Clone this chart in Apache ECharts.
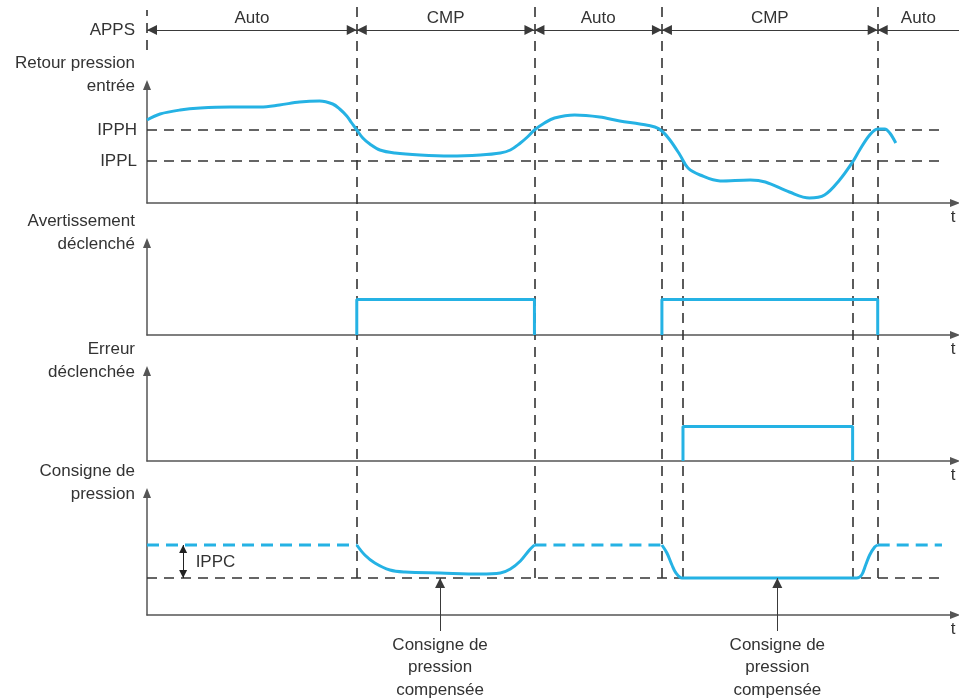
<!DOCTYPE html>
<html>
<head>
<meta charset="utf-8">
<script src="https://cdn.jsdelivr.net/npm/echarts@6/dist/echarts.min.js"></script>
<style>
html, body { margin: 0; background: #fff; }
#chart { width: 959px; height: 699px; }
</style>
</head>
<body>
<div id="chart"></div>
<script>
// time in arbitrary units, each panel has its own arbitrary value units
const modes = ['Auto', 'CMP', 'Auto', 'CMP', 'Auto']
const switchT = [20.9, 38.6, 51.3, 72.8]
const errT = [53.4, 70.3]
const lineEnd = 79.2

// Retour pression entrée
const pressT = [0, 1.3, 3.3, 5.3, 8.3, 11.3, 13.2, 15.2, 17.2, 18.5, 19.2, 19.9, 20.4, 20.9, 21.5, 22.2, 23.2, 24.7, 27.2, 30.2, 33.2, 35.2, 36.2, 37.2, 37.9, 38.6, 39.6, 40.6, 42.6, 45.1, 47.1, 49.1, 50.6, 51.3, 52.1, 53.1, 53.9, 55.1, 57.1, 60.1, 61.6, 64.0, 66.0, 67.5, 69.0, 70.3, 71.0, 72.0, 72.8, 73.5, 74.0, 74.6]
const pressV = [8.3, 8.9, 9.3, 9.5, 9.6, 9.6, 9.8, 10.1, 10.2, 9.9, 9.4, 8.7, 8.0, 7.3, 6.5, 5.9, 5.3, 5.0, 4.8, 4.7, 4.8, 5.0, 5.3, 6.0, 6.6, 7.3, 8.0, 8.5, 8.8, 8.6, 8.2, 7.9, 7.6, 7.2, 6.3, 4.8, 3.5, 2.8, 2.2, 2.3, 2.1, 1.1, 0.5, 0.8, 2.3, 4.1, 5.3, 6.8, 7.4, 7.4, 7.0, 6.0]
const IPPH = 7.3
const IPPL = 4.2

// Avertissement / Erreur déclenché
const warnOn = [20.9, 51.3]
const warnOff = [38.6, 72.8]
const errOn = [53.4]
const errOff = [70.3]

// Consigne de pression
const spNominal = 7.0
const spCompensated = 3.7
const nominalFrom = [0, 38.6, 72.8]
const nominalTo = [20.9, 51.3, 79.2]
const comp1T = [20.9, 21.7, 22.7, 24.2, 25.7, 29.2, 33.2, 35.2, 36.2, 37.2, 38.1, 38.6]
const comp1V = [7.0, 6.0, 5.2, 4.5, 4.3, 4.2, 4.1, 4.2, 4.6, 5.4, 6.5, 7.0]
const comp2T = [51.3, 51.8, 52.3, 52.7, 53.3, 62.0, 70.7, 71.2, 71.6, 72.0, 72.5, 72.8]
const comp2V = [7.0, 6.2, 5.0, 4.2, 3.7, 3.7, 3.7, 4.0, 5.0, 6.0, 6.8, 7.0]
const ippcT = 3.6
const ippcLabelV = 5.3
const annotT = [29.2, 62.8]

const panelNames = ['APPS', 'Retour pression\nentrée', 'Avertissement\ndéclenché', 'Erreur\ndéclenchée', 'Consigne de\npression']

const W = 959
const H = 699
const LEFT = 147
const RIGHT = 4
const T_MAX = 80.5
const T_MAX_APPS = T_MAX * (W - LEFT) / (W - LEFT - RIGHT)
const BLUE = '#25b2e4'
const INK = '#333'
const AXIS = '#555'
const FONT = '"Liberation Sans", Arial, sans-serif'
const dashed = { color: '#333', width: 1.6, type: [10, 7] }
const txt = { color: INK, fontSize: 17, fontFamily: FONT }

const grids = [
	{ top: 10, bottom: H - 50, right: 0 }, // APPS row
	{ top: 85, bottom: H - 203 },
	{ top: 243, bottom: H - 335 },
	{ top: 371, bottom: H - 461 },
	{ top: 493, bottom: H - 615 },
	{ top: 6, bottom: H - 578 }, // mode switch lines
	{ top: 161, bottom: H - 578 }, // error start / stop lines, from IPPL down
	{ top: 578, bottom: H - 631 }, // arrows to compensated setpoint
].map((g) => ({ left: LEFT, right: RIGHT, outerBoundsMode: 'none', ...g }))

const yMax = [2, 11.8, 2.6, 2.6, 12.2, 1, 1, 1]

const xAxis = grids.map((g, i) => ({
	type: 'value',
	gridIndex: i,
	min: 0,
	max: i === 0 ? T_MAX_APPS : T_MAX,
	show: i >= 1 && i <= 4,
	axisLine: {
		show: true,
		symbol: ['none', 'triangle'],
		symbolSize: [8, 10],
		lineStyle: { color: AXIS, width: 1.5 },
	},
	axisTick: { show: false },
	axisLabel: { show: false },
	splitLine: { show: false },
	name: 't',
	nameLocation: 'end',
	nameGap: -2,
	nameTextStyle: { ...txt, align: 'center', verticalAlign: 'top', padding: [6, 0, 0, 0] },
}))

const yAxis = grids.map((g, i) => {
	const ax = {
		type: 'value',
		gridIndex: i,
		min: 0,
		max: yMax[i],
		show: i <= 4,
		axisLine: {
			show: i >= 1,
			symbol: ['none', 'triangle'],
			symbolSize: [8, 10],
			lineStyle: { color: AXIS, width: 1.5 },
		},
		axisTick: { show: false },
		axisLabel: { show: false },
		splitLine: { show: false },
	}
	if (i === 0) {
		ax.name = panelNames[0]
		ax.nameLocation = 'middle'
		ax.nameRotate = 0
		ax.nameGap = 12
		ax.nameTextStyle = { ...txt, align: 'right', verticalAlign: 'middle' }
	} else if (i <= 4) {
		ax.name = panelNames[i]
		ax.nameLocation = 'end'
		ax.nameGap = -12.5
		ax.nameTextStyle = { ...txt, align: 'right', verticalAlign: 'bottom', lineHeight: 23, padding: [0, 12, 0, 0] }
	}
	return ax
})

const pairs = (ts, vs) => ts.map((t, i) => [t, vs[i]])
const blueLine = { color: BLUE, width: 3 }

const series = []

// APPS mode segments with arrows pointing at each switch
const bounds = [0, ...switchT, T_MAX_APPS]
series.push({
	type: 'line',
	xAxisIndex: 0,
	yAxisIndex: 0,
	data: [],
	markLine: {
		silent: true,
		symbol: 'triangle',
		symbolSize: 10,
		symbolOffset: [[0, 5], [0, 5]],
		lineStyle: { color: '#3a3a3a', width: 1, type: 'solid' },
		label: { ...txt, position: 'insideMiddleTop', distance: 3 },
		data: modes.map((m, i) => [
			{ coord: [bounds[i], 1], label: { formatter: m } },
			{ coord: [bounds[i + 1], 1], symbol: i === modes.length - 1 ? 'none' : 'triangle' },
		]),
	},
})
series.push({
	type: 'line',
	xAxisIndex: 0,
	yAxisIndex: 0,
	data: [],
	markLine: {
		silent: true,
		z: 1,
		symbol: 'none',
		lineStyle: dashed,
		label: { show: false },
		data: [{ xAxis: 0 }],
	},
})

// vertical dashed guides
series.push({
	type: 'line',
	xAxisIndex: 5,
	yAxisIndex: 5,
	data: [],
	z: 1,
	markLine: {
		silent: true,
		z: 1,
		symbol: 'none',
		lineStyle: dashed,
		label: { show: false },
		data: switchT.map((t) => ({ xAxis: t })),
	},
})
series.push({
	type: 'line',
	xAxisIndex: 6,
	yAxisIndex: 6,
	data: [],
	z: 1,
	markLine: {
		silent: true,
		z: 1,
		symbol: 'none',
		lineStyle: dashed,
		label: { show: false },
		data: errT.map((t) => ({ xAxis: t })),
	},
})

// panel 1: pressure feedback
series.push({
	type: 'line',
	xAxisIndex: 1,
	yAxisIndex: 1,
	smooth: 0.35,
	showSymbol: false,
	z: 3,
	lineStyle: blueLine,
	data: pairs(pressT, pressV),
	markLine: {
		silent: true,
		z: 1,
		symbol: 'none',
		lineStyle: dashed,
		label: { ...txt, position: 'start', distance: 10 },
		data: [
			[{ coord: [0, IPPH], label: { formatter: 'IPPH' } }, { coord: [lineEnd, IPPH] }],
			[{ coord: [0, IPPL], label: { formatter: 'IPPL' } }, { coord: [lineEnd, IPPL] }],
		],
	},
})

// panel 2 and 3: pulses
warnOn.forEach((on, i) => {
	series.push({
		type: 'line',
		xAxisIndex: 2,
		yAxisIndex: 2,
		showSymbol: false,
		z: 3,
		lineStyle: blueLine,
		data: [[on, 0], [on, 1], [warnOff[i], 1], [warnOff[i], 0]],
	})
})
errOn.forEach((on, i) => {
	series.push({
		type: 'line',
		xAxisIndex: 3,
		yAxisIndex: 3,
		showSymbol: false,
		z: 3,
		lineStyle: blueLine,
		data: [[on, 0], [on, 1], [errOff[i], 1], [errOff[i], 0]],
	})
})

// panel 4: setpoint
nominalFrom.forEach((a, i) => {
	series.push({
		type: 'line',
		xAxisIndex: 4,
		yAxisIndex: 4,
		showSymbol: false,
		z: 3,
		lineStyle: { ...blueLine, type: [12, 7] },
		data: [[a, spNominal], [nominalTo[i], spNominal]],
	})
})
;[[comp1T, comp1V], [comp2T, comp2V]].forEach(([ts, vs]) => {
	series.push({
		type: 'line',
		xAxisIndex: 4,
		yAxisIndex: 4,
		smooth: 0.35,
		showSymbol: false,
		z: 3,
		lineStyle: blueLine,
		data: pairs(ts, vs),
	})
})
series.push({
	type: 'line',
	xAxisIndex: 4,
	yAxisIndex: 4,
	data: [],
	z: 2,
	markLine: {
		silent: true,
		z: 1,
		symbol: 'none',
		lineStyle: dashed,
		label: { show: false },
		data: [[{ coord: [0, spCompensated] }, { coord: [lineEnd, spCompensated] }]],
	},
})
series.push({
	type: 'line',
	xAxisIndex: 4,
	yAxisIndex: 4,
	data: [],
	z: 2,
	markLine: {
		silent: true,
		symbol: 'triangle',
		symbolSize: 8,
		symbolOffset: [[0, 4], [0, 4]],
		lineStyle: { color: '#222', width: 1, type: 'solid' },
		label: { show: false },
		data: [[{ coord: [ippcT, spCompensated] }, { coord: [ippcT, spNominal] }]],
	},
	markPoint: {
		silent: true,
		symbol: 'circle',
		symbolSize: 1,
		itemStyle: { color: 'transparent' },
		label: { ...txt, show: true, position: 'right', distance: 12, formatter: 'IPPC' },
		data: [{ coord: [ippcT, ippcLabelV] }],
	},
})

// arrows to the compensated setpoint
series.push({
	type: 'line',
	xAxisIndex: 7,
	yAxisIndex: 7,
	data: [],
	markLine: {
		silent: true,
		symbol: ['none', 'triangle'],
		symbolSize: 10,
		symbolOffset: [0, [0, 5]],
		lineStyle: { color: '#3a3a3a', width: 1, type: 'solid' },
		label: {
			...txt,
			position: 'start',
			distance: 3,
			align: 'center',
			verticalAlign: 'top',
			lineHeight: 22.5,
			formatter: 'Consigne de\npression\ncompensée',
		},
		data: annotT.map((t) => [{ coord: [t, 0] }, { coord: [t, 1] }]),
	},
})

const chart = echarts.init(document.getElementById('chart'))
chart.setOption({
	animation: false,
	backgroundColor: '#fff',
	textStyle: { fontFamily: FONT },
	grid: grids,
	xAxis,
	yAxis,
	series,
})
</script>
</body>
</html>
